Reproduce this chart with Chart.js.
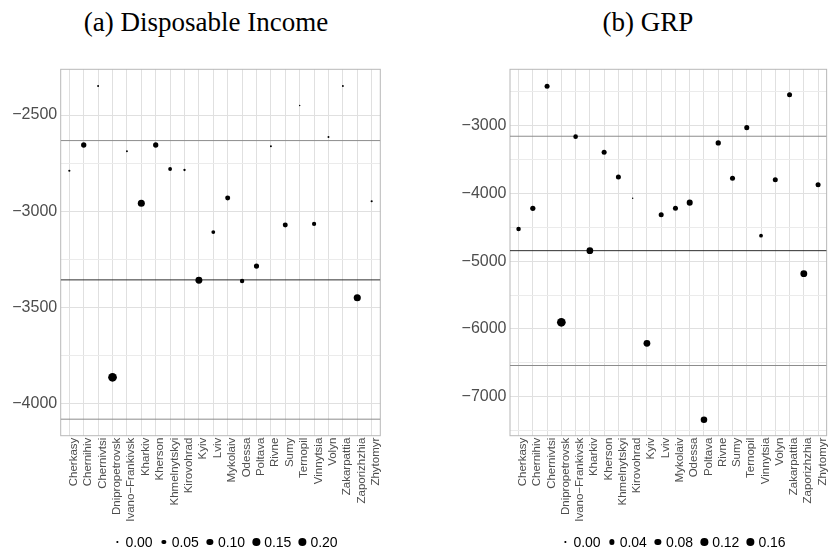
<!DOCTYPE html>
<html>
<head>
<meta charset="utf-8">
<script src="https://cdn.jsdelivr.net/npm/chart.js@4/dist/chart.umd.min.js"></script>
<style>
  html, body { margin: 0; padding: 0; background: #fff; }
  body { width: 828px; height: 548px; overflow: hidden; position: relative; }
  canvas { position: absolute; top: 0; }
  .title { position: absolute; top: 9px; font-family: "Liberation Serif", serif; font-size: 27px; line-height: 27px;
           color: #000; white-space: nowrap; transform: translateX(-50%); }
  .sizekey { position: absolute; top: 535px; display: flex; align-items: center; height: 14px;
             font-family: "Liberation Sans", Arial, sans-serif; font-size: 14px; line-height: 14px; color: #000;
             transform: translateX(-50%); white-space: nowrap; }
  .sizekey .slot { width: 10px; height: 14px; display: flex; align-items: center; justify-content: center; }
  .sizekey .dot { background: #000; border-radius: 50%; }
  .sizekey .lab { margin: 0 6px 0 3px; }
  .sizekey .lab:last-child { margin-right: 0; }
</style>
</head>
<body>
<div class="title" id="titleA" style="left:206px">(a) Disposable Income</div>
<div class="title" id="titleB" style="left:648px">(b) GRP</div>
<canvas id="panelA" width="414" height="548" style="left:0"></canvas>
<canvas id="panelB" width="420" height="548" style="left:414px"></canvas>
<div class="sizekey" id="keyA" style="left:225px"></div>
<div class="sizekey" id="keyB" style="left:673px"></div>

<script>
// Regions shown on the horizontal axis of both panels
const regions = ["Cherkasy", "Chernihiv", "Chernivtsi", "Dnipropetrovsk", "Ivano\u2212Frankivsk", "Kharkiv",
  "Kherson", "Khmelnytskyi", "Kirovohrad", "Kyiv", "Lviv", "Mykolaiv", "Odessa", "Poltava", "Rivne", "Sumy",
  "Ternopil", "Vinnytsia", "Volyn", "Zakarpattia", "Zaporizhzhia", "Zhytomyr"];

// (a) Disposable income: value per region and the weight that sets point size
const incomeValues = [-2790, -2656, -2349, -3865, -2689, -2959, -2656, -2781, -2786, -3360, -3109,
  -2932, -3364, -3286, -2663, -3072, -2450, -3067, -2614, -2349, -3451, -2949];
const incomeWeights = [0.002, 0.059, 0.001, 0.210, 0.001, 0.125, 0.058, 0.022, 0.003, 0.120, 0.022,
  0.050, 0.037, 0.055, 0.001, 0.050, 0.000, 0.032, 0.001, 0.001, 0.128, 0.002];
const incomeRefLines = [-2633, -3358, -4083];   // upper bound, mean, lower bound
const incomeRange = [-4169, -2262];
const incomeMajorTicks = [-4000, -3500, -3000, -2500];
const incomeMinorTicks = [-3750, -3250, -2750];
const incomeKeyBreaks = [0.00, 0.05, 0.10, 0.15, 0.20];

// (b) Gross regional product: value per region and the weight that sets point size
const grpValues = [-4525, -4219, -2418, -5902, -3162, -4845, -3393, -3757, -4072, -6212, -4314,
  -4219, -4136, -7340, -3255, -3777, -3029, -4624, -3797, -2542, -5184, -3871];
const grpWeights = [0.030, 0.045, 0.040, 0.165, 0.032, 0.088, 0.040, 0.040, 0.000, 0.090, 0.040,
  0.040, 0.066, 0.082, 0.046, 0.040, 0.040, 0.017, 0.040, 0.040, 0.092, 0.040];
const grpRefLines = [-3156, -4845, -6540];
const grpRange = [-7576, -2168];
const grpMajorTicks = [-7000, -6000, -5000, -4000, -3000];
const grpMinorTicks = [-7500, -6500, -5500, -4500, -3500, -2500];
const grpKeyBreaks = [0.00, 0.04, 0.08, 0.12, 0.16];

// Discrete axis padding (0.6 of a category on each side)
const xLimits = [-0.6, 21.6];

// Point diameter: area grows with the weight (sqrt scaling between the data extremes)
function diameter(w, lo, hi) {
  const t = (Math.sqrt(w) - Math.sqrt(lo)) / (Math.sqrt(hi) - Math.sqrt(lo));
  return 1.45 * (1 + 5 * t);
}

const panelBorder = {
  id: 'panelBorder',
  beforeDatasetsDraw(chart) {
    const { ctx, chartArea: a } = chart;
    ctx.save();
    ctx.strokeStyle = '#b8b8b8';
    ctx.lineWidth = 1;
    ctx.strokeRect(a.left, a.top, a.right - a.left, a.bottom - a.top);
    ctx.restore();
  }
};

const minus = v => String(v).replace('-', '\u2212');

function buildPanel(canvasId, values, weights, refLines, range, majors, minors, geom) {
  const lo = Math.min(...weights), hi = Math.max(...weights);
  const points = values.map((v, i) => ({ x: i, y: v }));
  const radii = weights.map(w => diameter(w, lo, hi) / 2);
  const refColors = ['#8c8c8c', '#2e2e2e', '#8c8c8c'];
  const lineSets = refLines.map((y, k) => ({
    data: [{ x: xLimits[0], y }, { x: xLimits[1], y }],
    showLine: true, borderColor: refColors[k], borderWidth: 1, pointRadius: 0, fill: false
  }));
  const ticksAll = [...majors, ...minors].sort((a, b) => a - b);

  return new Chart(document.getElementById(canvasId), {
    type: 'scatter',
    data: {
      datasets: [
        { data: points, pointRadius: radii, pointBackgroundColor: '#000', pointBorderWidth: 0, pointBorderColor: '#000' },
        ...lineSets
      ]
    },
    options: {
      responsive: false, animation: false, events: [],
      layout: { padding: { left: 0, top: geom.top, right: geom.right, bottom: 0 } },
      plugins: { legend: { display: false }, tooltip: { enabled: false }, title: { display: false } },
      scales: {
        x: {
          type: 'linear', min: xLimits[0], max: xLimits[1],
          afterBuildTicks(s) { s.ticks = regions.map((_, i) => ({ value: i })); },
          afterFit(s) { s.height = geom.xHeight; },
          grid: { color: '#e0e0e0', lineWidth: 1, drawTicks: false },
          border: { display: false },
          ticks: {
            autoSkip: false, minRotation: 90, maxRotation: 90, padding: 2, labelOffset: 4.4,
            color: '#4d4d4d', font: { family: 'Liberation Sans', size: 11.5 },
            callback: v => regions[v] ?? ''
          }
        },
        y: {
          type: 'linear', min: range[0], max: range[1],
          afterBuildTicks(s) { s.ticks = ticksAll.map(v => ({ value: v })); },
          afterFit(s) { s.width = geom.yWidth; },
          grid: {
            drawTicks: false, lineWidth: 1,
            color: c => (c.tick && majors.includes(c.tick.value)) ? '#e0e0e0' : '#ebebeb'
          },
          border: { display: false },
          ticks: {
            autoSkip: false, padding: 3.5, color: '#4d4d4d',
            font: { family: 'Liberation Sans', size: 16 },
            callback: v => majors.includes(v) ? minus(v) : ''
          }
        }
      }
    },
    plugins: [panelBorder]
  });
}

function buildKey(id, breaks, weights) {
  const lo = Math.min(...weights), hi = Math.max(...weights);
  const box = document.getElementById(id);
  breaks.forEach(b => {
    const d = Math.max(diameter(Math.max(b, lo), lo, hi), 1.4);
    const slot = document.createElement('span');
    slot.className = 'slot';
    const dot = document.createElement('span');
    dot.className = 'dot';
    dot.style.width = d + 'px';
    dot.style.height = d + 'px';
    slot.appendChild(dot);
    const lab = document.createElement('span');
    lab.className = 'lab';
    lab.textContent = b.toFixed(2);
    box.appendChild(slot);
    box.appendChild(lab);
  });
}

buildPanel('panelA', incomeValues, incomeWeights, incomeRefLines, incomeRange, incomeMajorTicks, incomeMinorTicks,
  { top: 69.3, right: 414 - 380.3, yWidth: 60.7, xHeight: 548 - 435.7 });
buildPanel('panelB', grpValues, grpWeights, grpRefLines, grpRange, grpMajorTicks, grpMinorTicks,
  { top: 69.3, right: 420 - 415.6, yWidth: 96, xHeight: 548 - 435.7 });

buildKey('keyA', incomeKeyBreaks, incomeWeights);
buildKey('keyB', grpKeyBreaks, grpWeights);
</script>
</body>
</html>
